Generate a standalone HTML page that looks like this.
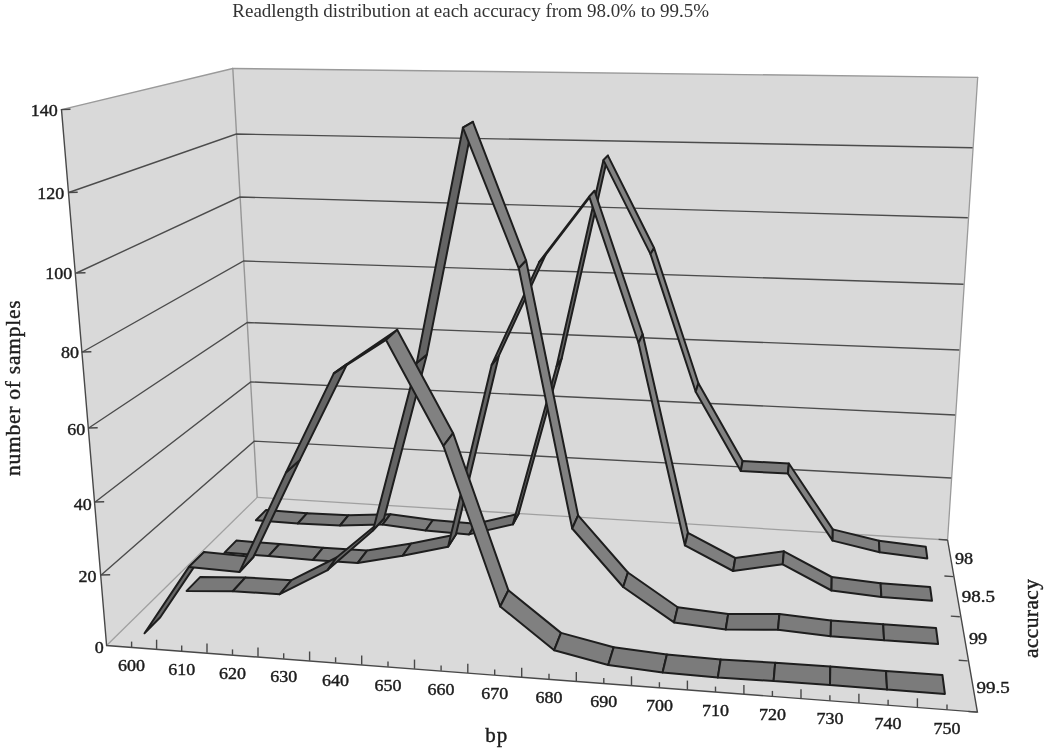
<!DOCTYPE html>
<html lang="en"><head><meta charset="utf-8"><title>Readlength distribution</title>
<style>html,body{margin:0;padding:0;background:#fff}svg{display:block}</style>
</head><body>
<svg width="1044" height="749" viewBox="0 0 1044 749" role="img" aria-label="Readlength distribution at each accuracy">
<rect width="1044" height="749" fill="#fff"/>
<polygon points="61.5,109.6 232.8,68.5 257.2,497.4 106.6,645.5" fill="#d9d9d9"/>
<polygon points="232.8,68.5 977.7,77.3 947.6,540.0 257.2,497.4" fill="#d9d9d9"/>
<polygon points="106.6,645.5 257.2,497.4 947.6,540.0 977.4,712.1" fill="#dadada"/>
<g stroke="#9a9a9a" stroke-width="1.3" fill="none" stroke-linecap="round">
<line x1="61.5" y1="109.6" x2="232.8" y2="68.5" />
<line x1="232.8" y1="68.5" x2="977.7" y2="77.3" />
<line x1="977.7" y1="77.3" x2="947.6" y2="540.0" />
<line x1="232.8" y1="68.5" x2="257.2" y2="497.4" stroke="#969696" stroke-width="1.4"/>
</g>
<g stroke="#a0a0a0" stroke-width="1.3" fill="none">
<line x1="106.6" y1="645.5" x2="257.2" y2="497.4" />
<line x1="257.2" y1="497.4" x2="947.6" y2="540.0" />
</g>
<g stroke="#4c4c4c" stroke-width="1.4" fill="none">
<polyline points="101.2,575.0 254.2,441.1 951.2,478.0"/>
<polyline points="95.2,502.0 250.7,381.9 955.2,415.0"/>
<polyline points="88.7,428.0 247.3,322.5 959.3,350.0"/>
<polyline points="82.4,352.0 243.6,261.0 963.5,284.3"/>
<polyline points="76.5,273.0 239.8,197.0 967.8,217.7"/>
<polyline points="68.7,192.5 236.3,134.0 972.6,147.7"/>
</g>
<g stroke="#484848" stroke-width="1.4" fill="none" stroke-linecap="butt">
<polyline points="61.5,109.6 106.6,645.5 977.4,712.1 947.6,540.0"/>
<line x1="68.0" y1="192.5" x2="77.7" y2="192.2" />
<line x1="75.8" y1="273.0" x2="85.5" y2="272.7" />
<line x1="81.7" y1="352.0" x2="91.4" y2="351.7" />
<line x1="88.0" y1="428.0" x2="97.7" y2="427.7" />
<line x1="94.5" y1="502.0" x2="104.2" y2="501.7" />
<line x1="100.5" y1="575.0" x2="110.2" y2="574.7" />
<line x1="60.8" y1="109.6" x2="70.5" y2="109.3" />
<line x1="131.6" y1="647.0" x2="131.6" y2="641.6" />
<line x1="156.6" y1="648.9" x2="156.6" y2="639.7" />
<line x1="181.7" y1="650.9" x2="181.7" y2="645.5" />
<line x1="207.0" y1="652.8" x2="207.0" y2="643.6" />
<line x1="232.5" y1="654.8" x2="232.5" y2="649.4" />
<line x1="258.0" y1="656.8" x2="258.0" y2="647.6" />
<line x1="283.7" y1="658.7" x2="283.7" y2="653.3" />
<line x1="309.6" y1="660.7" x2="309.6" y2="651.5" />
<line x1="335.6" y1="662.7" x2="335.6" y2="657.3" />
<line x1="361.7" y1="664.7" x2="361.7" y2="655.5" />
<line x1="388.0" y1="666.8" x2="388.0" y2="661.4" />
<line x1="414.5" y1="668.8" x2="414.5" y2="659.6" />
<line x1="441.1" y1="670.8" x2="441.1" y2="665.4" />
<line x1="467.8" y1="672.9" x2="467.8" y2="663.7" />
<line x1="494.7" y1="675.0" x2="494.7" y2="669.6" />
<line x1="521.7" y1="677.0" x2="521.7" y2="667.8" />
<line x1="549.0" y1="679.1" x2="549.0" y2="673.7" />
<line x1="576.3" y1="681.2" x2="576.3" y2="672.0" />
<line x1="603.8" y1="683.4" x2="603.8" y2="678.0" />
<line x1="631.5" y1="685.5" x2="631.5" y2="676.3" />
<line x1="659.4" y1="687.6" x2="659.4" y2="682.2" />
<line x1="687.4" y1="689.8" x2="687.4" y2="680.6" />
<line x1="715.5" y1="692.0" x2="715.5" y2="686.6" />
<line x1="743.9" y1="694.1" x2="743.9" y2="684.9" />
<line x1="772.4" y1="696.3" x2="772.4" y2="690.9" />
<line x1="801.0" y1="698.5" x2="801.0" y2="689.3" />
<line x1="829.9" y1="700.7" x2="829.9" y2="695.3" />
<line x1="858.9" y1="703.0" x2="858.9" y2="693.8" />
<line x1="888.1" y1="705.2" x2="888.1" y2="699.8" />
<line x1="917.4" y1="707.5" x2="917.4" y2="698.3" />
<line x1="947.0" y1="709.8" x2="947.0" y2="704.4" />
<line x1="947.6" y1="540.0" x2="938.6" y2="539.4" />
<line x1="953.4" y1="576.6" x2="944.4" y2="576.0" />
<line x1="959.8" y1="616.7" x2="950.8" y2="616.1" />
<line x1="967.7" y1="660.9" x2="958.7" y2="660.3" />
<line x1="977.4" y1="712.1" x2="968.4" y2="711.5" />
</g>
<g stroke="#1e1e1e" stroke-width="2" stroke-linejoin="round">
<polygon points="255.9,520.3 265.9,510.1 307.1,513.2 297.8,523.5" fill="#7b7b7b"/>
<polygon points="297.8,523.5 307.1,513.2 348.6,515.2 340.0,525.5" fill="#7a7a7a"/>
<polygon points="340.0,525.5 348.6,515.2 390.5,514.2 382.5,524.6" fill="#787878"/>
<polygon points="382.5,524.6 390.5,514.2 432.9,520.0 425.6,530.5" fill="#7c7c7c"/>
<polygon points="425.6,530.5 432.9,520.0 475.6,523.8 469.1,534.4" fill="#7b7b7b"/>
<polygon points="469.1,534.4 475.6,523.8 518.6,513.8 512.8,524.4" fill="#717171"/>
<polygon points="512.8,524.4 518.6,513.8 561.7,358.5 556.5,366.5" fill="#646464"/>
<polygon points="556.5,366.5 561.7,358.5 607.9,155.6 603.4,160.1" fill="#646464"/>
<polygon points="603.4,160.1 607.9,155.6 654.1,248.0 650.5,254.1" fill="#818181"/>
<polygon points="650.5,254.1 654.1,248.0 698.4,383.2 695.7,391.8" fill="#818181"/>
<polygon points="695.7,391.8 698.4,383.2 742.6,461.1 740.8,471.1" fill="#818181"/>
<polygon points="740.8,471.1 742.6,461.1 788.9,463.5 787.9,473.6" fill="#7b7b7b"/>
<polygon points="787.9,473.6 788.9,463.5 832.8,529.4 832.6,540.6" fill="#818181"/>
<polygon points="832.6,540.6 832.8,529.4 878.9,540.8 879.6,552.3" fill="#7d7d7d"/>
<polygon points="879.6,552.3 878.9,540.8 925.8,546.8 927.3,558.4" fill="#7c7c7c"/>
<polygon points="224.5,552.6 236.3,540.6 279.5,544.0 268.5,556.1" fill="#7b7b7b"/>
<polygon points="268.5,556.1 279.5,544.0 323.1,547.7 312.9,560.0" fill="#7b7b7b"/>
<polygon points="312.9,560.0 323.1,547.7 367.1,550.6 357.7,562.9" fill="#7b7b7b"/>
<polygon points="357.7,562.9 367.1,550.6 411.2,543.5 402.6,555.8" fill="#737373"/>
<polygon points="402.6,555.8 411.2,543.5 455.9,534.5 448.1,546.7" fill="#727272"/>
<polygon points="448.1,546.7 455.9,534.5 498.8,355.9 491.7,364.8" fill="#646464"/>
<polygon points="491.7,364.8 498.8,355.9 545.6,254.8 539.3,261.8" fill="#656565"/>
<polygon points="539.3,261.8 545.6,254.8 594.5,190.8 589.2,196.6" fill="#666666"/>
<polygon points="589.2,196.6 594.5,190.8 642.7,334.3 638.5,343.0" fill="#818181"/>
<polygon points="638.5,343.0 642.7,334.3 688.0,532.8 684.9,545.4" fill="#818181"/>
<polygon points="684.9,545.4 688.0,532.8 735.3,558.0 733.1,571.0" fill="#7f7f7f"/>
<polygon points="733.1,571.0 735.3,558.0 783.9,551.3 782.7,564.3" fill="#747474"/>
<polygon points="782.7,564.3 783.9,551.3 831.7,577.0 831.5,590.5" fill="#7f7f7f"/>
<polygon points="831.5,590.5 831.7,577.0 880.6,583.3 881.4,597.1" fill="#7c7c7c"/>
<polygon points="881.4,597.1 880.6,583.3 930.1,586.9 932.0,600.8" fill="#7b7b7b"/>
<polygon points="186.6,590.9 200.1,577.1 245.5,577.4 232.8,591.2" fill="#797979"/>
<polygon points="232.8,591.2 245.5,577.4 291.5,580.2 279.8,594.2" fill="#7b7b7b"/>
<polygon points="279.8,594.2 291.5,580.2 336.6,557.5 327.6,570.1" fill="#6b6b6b"/>
<polygon points="327.6,570.1 336.6,557.5 384.0,518.5 373.0,530.4" fill="#686868"/>
<polygon points="373.0,530.4 384.0,518.5 426.9,354.6 416.7,363.1" fill="#646464"/>
<polygon points="416.7,363.1 426.9,354.6 472.9,121.8 462.9,127.7" fill="#646464"/>
<polygon points="462.9,127.7 472.9,121.8 526.1,260.5 518.8,268.3" fill="#818181"/>
<polygon points="518.8,268.3 526.1,260.5 578.1,515.3 572.2,528.5" fill="#818181"/>
<polygon points="572.2,528.5 578.1,515.3 627.9,572.5 623.2,587.0" fill="#808080"/>
<polygon points="623.2,587.0 627.9,572.5 677.7,607.2 674.0,622.4" fill="#7f7f7f"/>
<polygon points="674.0,622.4 677.7,607.2 728.2,614.0 725.7,629.5" fill="#7c7c7c"/>
<polygon points="725.7,629.5 728.2,614.0 779.4,614.1 778.0,629.7" fill="#787878"/>
<polygon points="778.0,629.7 779.4,614.1 831.0,620.4 830.7,636.2" fill="#7c7c7c"/>
<polygon points="830.7,636.2 831.0,620.4 883.2,624.3 884.1,640.3" fill="#7b7b7b"/>
<polygon points="884.1,640.3 883.2,624.3 936.0,627.9 938.1,644.1" fill="#7b7b7b"/>
<polygon points="144.5,633.3 160.3,617.2 204.0,552.1 188.9,566.9" fill="#666666"/>
<polygon points="188.9,566.9 204.0,552.1 253.4,557.0 239.4,572.1" fill="#7b7b7b"/>
<polygon points="239.4,572.1 253.4,557.0 299.9,459.9 285.9,472.6" fill="#656565"/>
<polygon points="285.9,472.6 299.9,459.9 347.2,363.9 333.8,373.4" fill="#656565"/>
<polygon points="333.8,373.4 347.2,363.9 397.2,329.8 386.0,340.0" fill="#6a6a6a"/>
<polygon points="386.0,340.0 397.2,329.8 453.1,433.2 443.4,445.9" fill="#818181"/>
<polygon points="443.4,445.9 453.1,433.2 508.4,590.3 500.2,606.5" fill="#818181"/>
<polygon points="500.2,606.5 508.4,590.3 561.0,632.9 554.2,650.2" fill="#808080"/>
<polygon points="554.2,650.2 561.0,632.9 613.7,647.3 608.2,665.0" fill="#7d7d7d"/>
<polygon points="608.2,665.0 613.7,647.3 666.9,654.4 662.6,672.4" fill="#7c7c7c"/>
<polygon points="662.6,672.4 666.9,654.4 720.7,659.4 717.8,677.6" fill="#7b7b7b"/>
<polygon points="717.8,677.6 720.7,659.4 775.2,662.7 773.6,681.1" fill="#7a7a7a"/>
<polygon points="773.6,681.1 775.2,662.7 830.3,666.4 830.0,685.0" fill="#7b7b7b"/>
<polygon points="830.0,685.0 830.3,666.4 886.0,670.9 887.1,689.6" fill="#7b7b7b"/>
<polygon points="887.1,689.6 886.0,670.9 942.4,675.0 944.9,694.0" fill="#7b7b7b"/>
</g>
<g font-family="'Liberation Serif', 'Times New Roman', serif" fill="#1c1c1c" stroke="#1c1c1c" stroke-width="0.4">
<text x="232.3" y="16.6" font-size="19" fill="#333" stroke="none" textLength="476.8" lengthAdjust="spacing">Readlength distribution at each accuracy from 98.0% to 99.5%</text>
<text transform="translate(57.8,116.4) scale(1.110,1)" font-size="16.2" text-anchor="end">140</text>
<text transform="translate(64.3,198.8) scale(1.110,1)" font-size="16.2" text-anchor="end">120</text>
<text transform="translate(72.3,279.0) scale(1.110,1)" font-size="16.2" text-anchor="end">100</text>
<text transform="translate(79.1,358.0) scale(1.110,1)" font-size="16.2" text-anchor="end">80</text>
<text transform="translate(85.3,434.8) scale(1.110,1)" font-size="16.2" text-anchor="end">60</text>
<text transform="translate(91.8,509.5) scale(1.110,1)" font-size="16.2" text-anchor="end">40</text>
<text transform="translate(96.4,581.6) scale(1.110,1)" font-size="16.2" text-anchor="end">20</text>
<text transform="translate(103.8,652.9) scale(1.110,1)" font-size="16.2" text-anchor="end">0</text>
<text transform="translate(131.6,670.7) scale(1.110,1)" font-size="16.2" text-anchor="middle">600</text>
<text transform="translate(181.7,674.6) scale(1.110,1)" font-size="16.2" text-anchor="middle">610</text>
<text transform="translate(232.5,678.5) scale(1.110,1)" font-size="16.2" text-anchor="middle">620</text>
<text transform="translate(283.7,682.4) scale(1.110,1)" font-size="16.2" text-anchor="middle">630</text>
<text transform="translate(335.6,686.4) scale(1.110,1)" font-size="16.2" text-anchor="middle">640</text>
<text transform="translate(388.0,690.5) scale(1.110,1)" font-size="16.2" text-anchor="middle">650</text>
<text transform="translate(441.1,694.5) scale(1.110,1)" font-size="16.2" text-anchor="middle">660</text>
<text transform="translate(494.7,698.7) scale(1.110,1)" font-size="16.2" text-anchor="middle">670</text>
<text transform="translate(549.0,702.8) scale(1.110,1)" font-size="16.2" text-anchor="middle">680</text>
<text transform="translate(603.8,707.1) scale(1.110,1)" font-size="16.2" text-anchor="middle">690</text>
<text transform="translate(659.4,711.3) scale(1.110,1)" font-size="16.2" text-anchor="middle">700</text>
<text transform="translate(715.5,715.7) scale(1.110,1)" font-size="16.2" text-anchor="middle">710</text>
<text transform="translate(772.4,720.0) scale(1.110,1)" font-size="16.2" text-anchor="middle">720</text>
<text transform="translate(829.9,724.4) scale(1.110,1)" font-size="16.2" text-anchor="middle">730</text>
<text transform="translate(888.1,728.9) scale(1.110,1)" font-size="16.2" text-anchor="middle">740</text>
<text transform="translate(947.0,733.5) scale(1.110,1)" font-size="16.2" text-anchor="middle">750</text>
<text x="955.0" y="564.0" font-size="16.2" textLength="18.2" lengthAdjust="spacingAndGlyphs">98</text>
<text x="961.8" y="601.7" font-size="16.2" textLength="33.2" lengthAdjust="spacingAndGlyphs">98.5</text>
<text x="968.9" y="644.3" font-size="16.2" textLength="18.2" lengthAdjust="spacingAndGlyphs">99</text>
<text x="976.6" y="693.0" font-size="16.2" textLength="33.2" lengthAdjust="spacingAndGlyphs">99.5</text>
<text transform="translate(20.3,388.2) rotate(-90)" font-size="21.5" text-anchor="middle" textLength="175.5" lengthAdjust="spacing">number of samples</text>
<text x="496.3" y="742" font-size="21" text-anchor="middle" textLength="22" lengthAdjust="spacing">bp</text>
<text transform="translate(1037.7,618.5) rotate(-90)" font-size="21.5" text-anchor="middle" textLength="79" lengthAdjust="spacing">accuracy</text>
</g>
</svg>
</body></html>
